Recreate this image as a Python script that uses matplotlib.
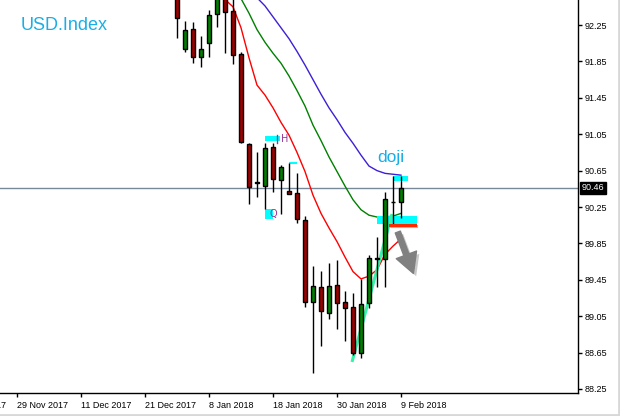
import matplotlib
matplotlib.use("Agg")
import matplotlib.pyplot as plt
import matplotlib.patheffects as pe
from matplotlib.lines import Line2D
from matplotlib.patches import Rectangle

# daily candles, index 0 = first bar visible in the window
opens  = [92.60, 91.99, 92.21, 91.90, 92.05, 92.37, 92.62, 92.40, 91.93, 90.94,
          90.52, 90.48, 90.91, 90.55, 90.43, 90.40, 90.11, 89.21, 89.37, 89.09,
          89.39, 89.21, 89.15, 88.65, 89.20, 89.68, 89.68, 90.30, 90.30]
highs  = [92.65, 92.29, 92.28, 92.13, 92.41, 92.65, 92.70, 92.55, 91.95, 90.95,
          90.85, 90.95, 90.95, 90.71, 90.73, 90.62, 90.15, 89.60, 89.55, 89.63,
          89.67, 89.33, 89.30, 89.46, 89.72, 89.92, 90.41, 90.59, 90.59]
lows   = [92.11, 91.95, 91.83, 91.79, 91.90, 92.23, 91.94, 91.82, 90.95, 90.28,
          90.36, 90.23, 90.41, 90.17, 90.39, 90.07, 89.15, 88.43, 88.72, 89.02,
          88.91, 88.78, 88.62, 88.59, 89.14, 89.37, 89.37, 90.05, 90.13]
closes = [92.33, 92.20, 91.90, 91.99, 92.36, 92.60, 92.39, 91.92, 90.96, 90.47,
          90.51, 90.90, 90.56, 90.69, 90.39, 90.12, 89.21, 89.38, 89.11, 89.38,
          89.19, 89.14, 88.65, 89.18, 89.69, 89.69, 90.34, 90.30, 90.46]

# moving averages (None = not drawn)
ma_red   = [None] * 5 + [92.66, 92.53, 92.45, 92.22, 91.89, 91.59, 91.48, 91.34,
                         91.18, 91.04, 90.85, 90.64, 90.38, 90.18, 90.02, 89.87,
                         89.70, 89.54, 89.46, 89.49, 89.56, 89.73, 89.82, 89.90]
ma_green = [None] * 7 + [92.69, 92.54, 92.38, 92.20, 92.06, 91.94, 91.83, 91.69,
                         91.53, 91.36, 91.15, 90.98, 90.80, 90.64, 90.48, 90.33,
                         90.22, 90.16, 90.14, 90.14, 90.15, 90.18]
ma_blue  = [None] * 9 + [92.68, 92.55, 92.46, 92.34, 92.22, 92.10, 91.96, 91.81,
                         91.65, 91.49, 91.34, 91.21, 91.07, 90.95, 90.82, 90.70,
                         90.65, 90.62, 90.61, 90.60]

last_price = 90.46

tick_pos = [-20, -12, -4, 4, 12, 20, 28]
tick_labels = ["29 Nov 2017", "11 Dec 2017", "21 Dec 2017", "8 Jan 2018",
               "18 Jan 2018", "30 Jan 2018", "9 Feb 2018"]
y_ticks = [92.25, 91.85, 91.45, 91.05, 90.65, 90.25, 89.85, 89.45, 89.05, 88.65, 88.25]

# drawn objects on the chart
trend_x = [21.875, 26.875]
trend_y = [88.547, 90.173]
cyan_boxes = [(11.0, 12.875, 90.975, 91.030), (11.0, 12.0, 90.118, 90.228),
              (14.0, 15.0, 90.723, 90.744), (27.0, 28.875, 90.536, 90.591),
              (25.0, 30.0, 90.063, 90.151)]
red_box = (26.5, 30.0, 90.030, 90.063)
arrow_from = (27.6, 89.975)
arrow_to = (29.55, 89.52)

fig = plt.figure(figsize=(6.2, 4.16), dpi=100)
ax = fig.add_axes([0, 23 / 416, 578 / 620, 393 / 416])
ax.set_xlim(-22.125, 50.125)
ax.set_ylim(88.206, 92.525)

for s in ["left", "top"]:
    ax.spines[s].set_visible(False)
for s in ["right", "bottom"]:
    ax.spines[s].set_linewidth(1)

# price line
ax.axhline(last_price, color="#778899", lw=1, zorder=1)

# MAs
xs = list(range(len(closes)))
for ma, col in [(ma_blue, "#3d1fd6"), (ma_green, "#008000"), (ma_red, "#ff0000")]:
    px = [x for x, v in zip(xs, ma) if v is not None]
    pv = [v for v in ma if v is not None]
    ax.plot(px, pv, color=col, lw=1, zorder=2)

# trend line sits behind the candles
ax.plot(trend_x, trend_y, color="#33f5a8", lw=2.2, zorder=2.8, solid_capstyle="butt")

# candles
ax.vlines(xs, lows, highs, color="black", lw=1, zorder=3)
bottoms = [min(o, c) for o, c in zip(opens, closes)]
heights = [max(abs(c - o), 0.004) for o, c in zip(opens, closes)]
colors = []
for o, c in zip(opens, closes):
    if abs(c - o) < 0.015:
        colors.append("black")
    elif c > o:
        colors.append("#008000")
    else:
        colors.append("#a00000")
ax.bar(xs, heights, bottom=bottoms, width=0.55, color=colors,
       edgecolor="black", linewidth=1, zorder=4)

# annotations
for x0, x1, y0, y1 in cyan_boxes:
    ax.add_patch(Rectangle((x0, y0), x1 - x0, y1 - y0, color="#00ffff", lw=0, zorder=2.5))
ax.add_patch(Rectangle((red_box[0], red_box[2]), red_box[1] - red_box[0],
                       red_box[3] - red_box[2], color="#ff2a00", lw=0, zorder=6,
                       path_effects=[pe.SimplePatchShadow(offset=(1, -1), alpha=0.3), pe.Normal()]))
ax.annotate("", xy=arrow_to, xytext=arrow_from,
            arrowprops=dict(arrowstyle="simple,head_length=1.1,head_width=1.2,tail_width=0.3",
                            color="#808080", mutation_scale=13, shrinkA=0, shrinkB=0,
                            path_effects=[pe.SimplePatchShadow(offset=(2, -2), alpha=0.25), pe.Normal()]),
            zorder=6)
ax.plot([12.5, 12.5], [90.95, 91.04], color="#993399", lw=1, zorder=5)
ax.text(12.95, 90.995, "H", color="#993399", fontsize=7, va="center", ha="left", zorder=5)
ax.text(11.55, 90.17, "Q", color="#993399", fontsize=7, va="center", ha="left", zorder=5)
ax.text(25.0, 90.75, "doji", color="#19aee6", fontsize=12.5, va="baseline", ha="left",
        family="Liberation Sans")
fig.text(21 / 620, 1 - 30 / 416, "USD.Index", color="#19aee6", fontsize=13,
         va="baseline", ha="left", family="Liberation Sans")

# axes ticks
ax.yaxis.tick_right()
ax.set_yticks(y_ticks)
ax.set_yticklabels([f"{v:.2f}" for v in y_ticks], family="Liberation Sans", fontsize=6.5)
ax.set_xticks(tick_pos)
ax.set_xticklabels(tick_labels, family="Liberation Sans", fontsize=6.5, ha="left")
ax.tick_params(axis="both", direction="out", length=3, width=1, pad=1.5)
ax.tick_params(axis="x", pad=3)
# label of the bar off the left edge, only its tail shows
ax.text(-28 + 0.25, -0.021, "17 Nov 2017", transform=ax.get_xaxis_transform(),
        family="Liberation Sans", fontsize=6.5, ha="left", va="top", clip_on=False)

ax.annotate(f"{last_price:.2f}", xy=(1, last_price), xycoords=("axes fraction", "data"),
            xytext=(2.5, 0), textcoords="offset points", va="center", ha="left",
            color="white", family="Liberation Sans", fontsize=6.5,
            bbox=dict(boxstyle="square,pad=0.2", fc="black", ec="black"))

fig.add_artist(Line2D([0, 1], [1.5 / 416, 1.5 / 416], color="#d8d8d8", lw=2))
fig.add_artist(Line2D([618.5 / 620, 618.5 / 620], [0, 1], color="#d8d8d8", lw=2))

fig.savefig("out.png", dpi=100)
